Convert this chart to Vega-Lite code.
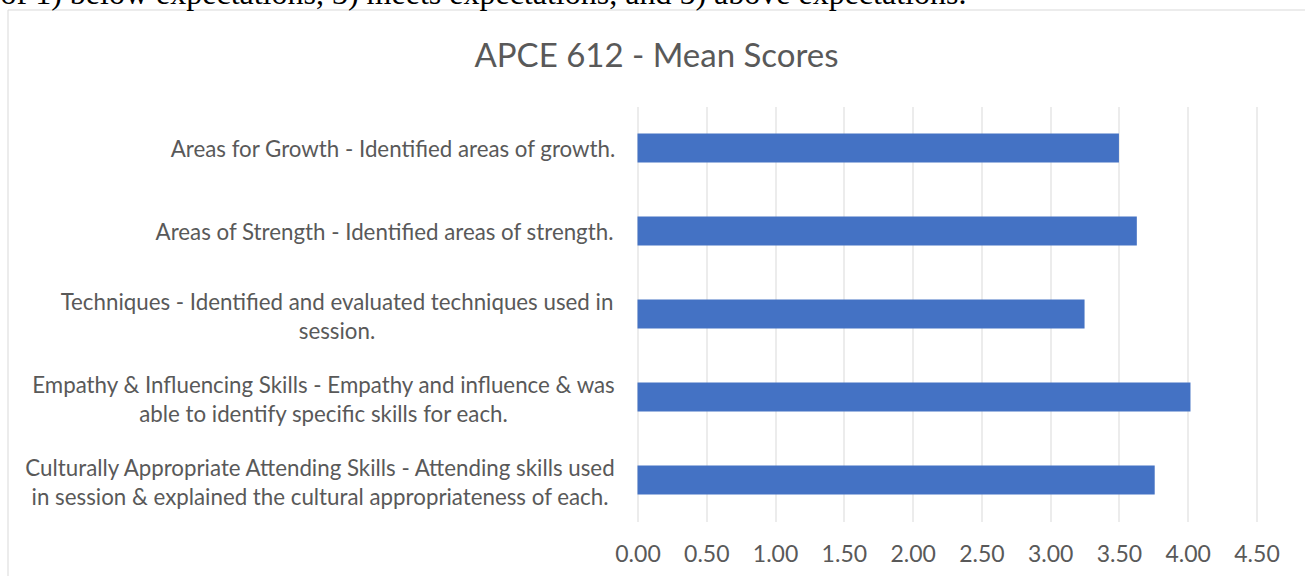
{
  "$schema": "https://vega.github.io/schema/vega-lite/v6.json",
  "width": 1304,
  "height": 609,
  "autosize": {"type": "none"},
  "padding": {"left": 7.5, "top": 9.5, "right": -6.5, "bottom": -42.5},
  "data": {
    "values": [
      {"criterion": "Areas for Growth - Identified areas of growth.", "mean": 3.5},
      {"criterion": "Areas of Strength - Identified areas of strength.", "mean": 3.63},
      {"criterion": "Techniques - Identified and evaluated techniques used in session.", "mean": 3.25},
      {"criterion": "Empathy & Influencing Skills - Empathy and influence & was able to identify specific skills for each.", "mean": 4.02},
      {"criterion": "Culturally Appropriate Attending Skills - Attending skills used in session & explained the cultural appropriateness of each.", "mean": 3.76}
    ]
  },
  "mark": {"type": "bar", "color": "#4472C4"},
  "encoding": {
    "y": {
      "field": "criterion",
      "type": "nominal",
      "sort": null,
      "scale": {"range": [97, 512], "paddingInner": 0.65, "paddingOuter": 0.325},
      "axis": {
        "title": "of 1) below expectations, 3) meets expectations, and 5) above expectations.",
        "titleFont": "Liberation Serif",
        "titleFontSize": 32,
        "titleFontWeight": "normal",
        "titleColor": "#000000",
        "titleAngle": 0,
        "titleAlign": "left",
        "titleBaseline": "alphabetic",
        "titleX": -637.5,
        "titleY": -6,
        "titleLimit": 3000,
        "orient": "left",
        "offset": -630,
        "domain": false,
        "ticks": false,
        "grid": false,
        "labelFont": "Lato",
        "labelFontSize": 22.3,
        "labelColor": "#595959",
        "labelAlign": "center",
        "labelBaseline": "middle",
        "labelLimit": 2000,
        "labelLineHeight": 29,
        "labelExpr": "split(replace(replace(replace(datum.label, 'used in session &', 'used|in session &'), 'used in session.', 'used in|session.'), 'was able', 'was|able'), '|')",
        "labelOffset": {
          "condition": {"test": "indexof(datum.value, 'Growth') >= 0 || indexof(datum.value, 'Strength') >= 0", "value": 2},
          "value": -11
        },
        "labelPadding": {
          "condition": [
            {"test": "indexof(datum.value, 'Growth') >= 0", "value": 245},
            {"test": "indexof(datum.value, 'Strength') >= 0", "value": 253.5},
            {"test": "indexof(datum.value, 'Techniques') >= 0", "value": 301},
            {"test": "indexof(datum.value, 'Empathy') >= 0", "value": 314.5}
          ],
          "value": 318
        }
      }
    },
    "x": {
      "field": "mean",
      "type": "quantitative",
      "scale": {"domain": [0, 4.5], "range": [630, 1249], "nice": false},
      "axis": {
        "orient": "bottom",
        "offset": -96.5,
        "values": [0, 0.5, 1, 1.5, 2, 2.5, 3, 3.5, 4, 4.5],
        "format": ".2f",
        "domain": false,
        "ticks": false,
        "grid": true,
        "gridColor": "#d9d9d9",
        "gridWidth": 1,
        "labelFont": "Lato",
        "labelFontSize": 23,
        "labelColor": "#595959",
        "labelPadding": 21,
        "labelBaseline": "top",
        "labelFlush": false,
        "labelOverlap": false,
        "title": "APCE 612 - Mean Scores",
        "titleFont": "Lato",
        "titleFontSize": 33,
        "titleFontWeight": "normal",
        "titleColor": "#595959",
        "titleX": 648.5,
        "titleY": -456,
        "titleAlign": "center",
        "titleBaseline": "alphabetic",
        "titleAngle": 0
      }
    }
  },
  "config": {"view": {"stroke": "#d9d9d9", "strokeWidth": 1}}
}
